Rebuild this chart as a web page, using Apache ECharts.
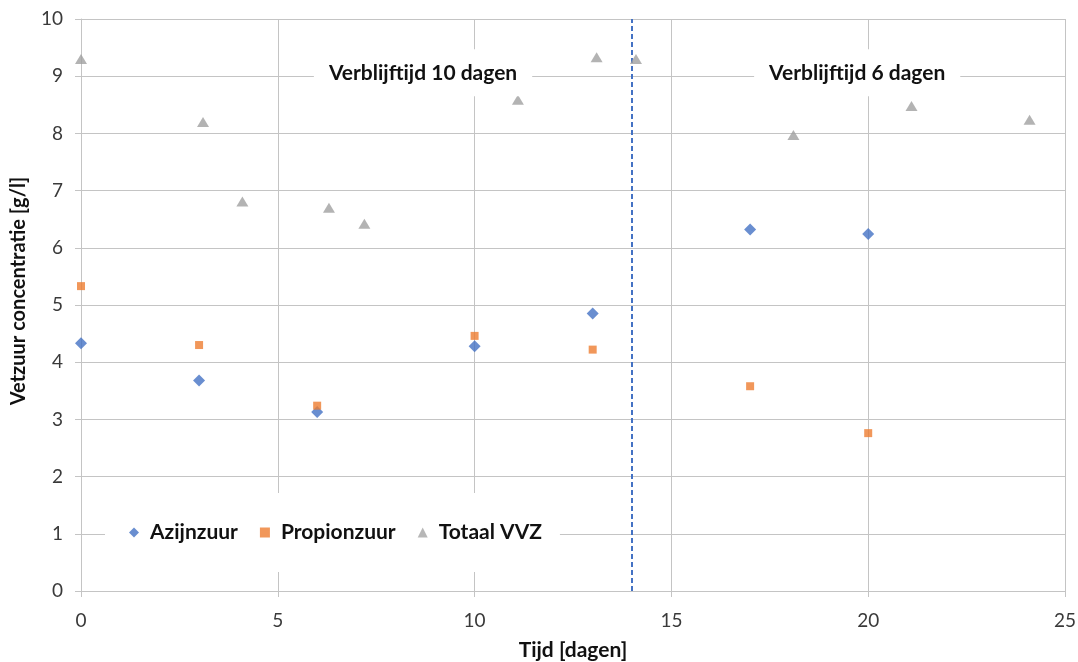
<!DOCTYPE html>
<html>
<head>
<meta charset="utf-8">
<script src="https://cdn.jsdelivr.net/npm/echarts@6/dist/echarts.min.js"></script>
<style>
  html, body { margin: 0; padding: 0; background: #fff; }
  #chart { width: 1078px; height: 662px; }
</style>
</head>
<body>
<div id="chart"></div>
<script>
// Vetzuur metingen: [tijd (dagen), concentratie (g/l)]
const azijnzuurDagen = [0, 3, 6, 10, 13, 17, 20];
const azijnzuurWaarden = [4.33, 3.68, 3.13, 4.28, 4.85, 6.32, 6.24];

const propionzuurDagen = [0, 3, 6, 10, 13, 17, 20];
const propionzuurWaarden = [5.33, 4.30, 3.24, 4.46, 4.22, 3.58, 2.76];

const totaalDagen = [0, 3.1, 4.1, 6.3, 7.2, 11.1, 13.1, 14.1, 18.1, 21.1, 24.1];
const totaalWaarden = [9.30, 8.20, 6.81, 6.70, 6.42, 8.59, 9.33, 9.30, 7.97, 8.48, 8.24];

// overgang van verblijftijd 10 naar 6 dagen
const wisselDag = 14;

const seriesNamen = ['Azijnzuur', 'Propionzuur', 'Totaal VVZ'];
const xTicks = { min: 0, max: 25, interval: 5 };
const yTicks = { min: 0, max: 10, interval: 1 };

// annotaties: tekst met positie in datacoördinaten
const annotaties = [
  { tekst: 'Verblijftijd 10 dagen', x: 8.69, y: 9.06 },
  { tekst: 'Verblijftijd 6 dagen', x: 19.72, y: 9.06 }
];

const zip = (xs, ys) => xs.map((x, i) => [x, ys[i]]);

const FONT = 'Lato, "Open Sans", sans-serif';
const GRID = '#c4c4c4';

const chart = echarts.init(document.getElementById('chart'));

const option = {
  backgroundColor: '#fff',
  animation: false,
  grid: { left: 81, right: 13, top: 19, bottom: 71, containLabel: false, outerBoundsMode: 'none' },
  xAxis: {
    type: 'value',
    min: xTicks.min, max: xTicks.max, interval: xTicks.interval,
    name: 'Tijd [dagen]',
    nameLocation: 'middle',
    nameGap: 49,
    nameTextStyle: { fontFamily: FONT, fontWeight: 'bold', fontSize: 21, color: '#111' },
    axisLine: { show: true, onZero: false, lineStyle: { color: GRID, width: 1 } },
    axisTick: { show: true, inside: false, length: 6, lineStyle: { color: GRID } },
    axisLabel: { fontFamily: FONT, fontSize: 19, color: '#3a3a3a', margin: 20 },
    splitLine: { show: true, lineStyle: { color: GRID, width: 1 } }
  },
  yAxis: {
    type: 'value',
    min: yTicks.min, max: yTicks.max, interval: yTicks.interval,
    name: 'Vetzuur concentratie [g/l]',
    nameLocation: 'middle',
    nameGap: 52,
    nameTextStyle: { fontFamily: FONT, fontWeight: 'bold', fontSize: 20, color: '#111', padding: [0, 0, 0, 28] },
    axisLine: { show: true, onZero: false, lineStyle: { color: GRID, width: 1 } },
    axisTick: { show: true, inside: false, length: 6, lineStyle: { color: GRID } },
    axisLabel: { fontFamily: FONT, fontSize: 19, color: '#3a3a3a', margin: 18 },
    splitLine: { show: true, lineStyle: { color: GRID, width: 1 } }
  },
  legend: {
    left: 105,
    top: 493,
    data: [
      { name: seriesNamen[0], icon: 'diamond', itemStyle: { color: '#4472C4' } },
      { name: seriesNamen[1], icon: 'rect', itemStyle: { color: '#ED7D31' } },
      { name: seriesNamen[2], icon: 'triangle', itemStyle: { color: '#A5A5A5' } }
    ],
    backgroundColor: '#fff',
    padding: [29, 18, 29, 24],
    itemGap: 22,
    itemWidth: 10,
    itemHeight: 10,
    textStyle: { fontFamily: FONT, fontWeight: 'bold', fontSize: 21, color: '#111', padding: [0, 0, 0, 6] },
    z: 5
  },
  series: [
    {
      name: seriesNamen[0],
      type: 'scatter',
      symbol: 'diamond',
      symbolSize: 12,
      itemStyle: { color: '#4472C4' },
      data: zip(azijnzuurDagen, azijnzuurWaarden),
      z: 3,
      markLine: {
        silent: true,
        symbol: ['none', 'none'],
        label: { show: false },
        lineStyle: { color: '#4472C4', type: [5, 3], width: 2 },
        data: [{ xAxis: wisselDag }],
        z: 2
      }
    },
    {
      name: seriesNamen[1],
      type: 'scatter',
      symbol: 'rect',
      symbolSize: 8,
      itemStyle: { color: '#ED7D31' },
      data: zip(propionzuurDagen, propionzuurWaarden),
      z: 4
    },
    {
      name: seriesNamen[2],
      type: 'scatter',
      symbol: 'triangle',
      symbolSize: [12, 10],
      itemStyle: { color: '#A0A0A0' },
      data: zip(totaalDagen, totaalWaarden),
      z: 3
    }
  ]
};

chart.setOption(option);

// tekstvakken met witte achtergrond over het raster
const graphics = annotaties.map(a => {
  const p = chart.convertToPixel({ gridIndex: 0 }, [a.x, a.y]);
  return {
    type: 'text',
    x: p[0],
    y: p[1],
    z: 10,
    style: {
      text: a.tekst,
      fontFamily: FONT,
      fontWeight: 'bold',
      fontSize: 21,
      fill: '#111',
      align: 'center',
      verticalAlign: 'middle',
      backgroundColor: '#fff',
      padding: [13, 15, 13, 15]
    }
  };
});
chart.setOption({ graphic: graphics });
</script>
</body>
</html>
